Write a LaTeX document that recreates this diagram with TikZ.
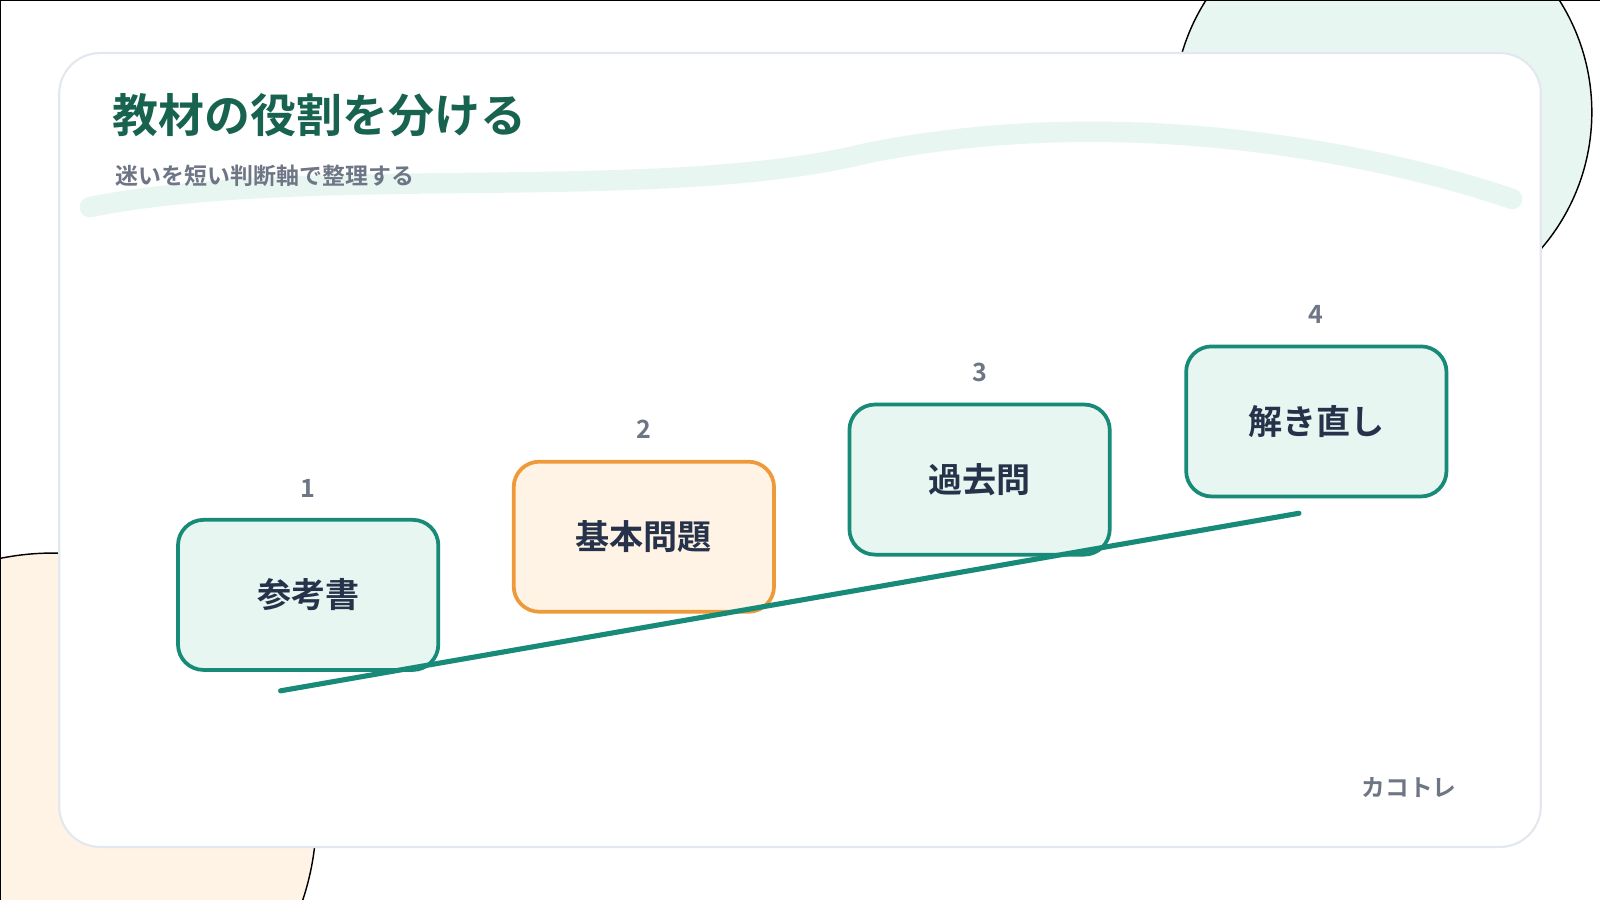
\documentclass[tikz,border=0pt]{standalone}
\usepackage{fontspec}
\setmainfont{Noto Sans CJK JP}
\newfontfamily\jpbold[BoldFont=*]{Noto Sans CJK JP Bold}
\usetikzlibrary{positioning}
\definecolor{teal}{HTML}{178A78}
\definecolor{tealfill}{HTML}{E8F6F2}
\definecolor{orangeln}{HTML}{EE9A3A}
\definecolor{orangefill}{HTML}{FFF3E5}
\definecolor{titlegreen}{HTML}{17634F}
\definecolor{subgray}{HTML}{6E7686}
\definecolor{boxtext}{HTML}{25324A}
\definecolor{cardline}{HTML}{E3E8EE}
\tikzset{
  stepbox/.style={draw=teal,fill=tealfill,line width=1.1mm/3,rounded corners=0.25cm,minimum width=2.55cm,minimum height=1.47cm,font=\jpbold\fontsize{9.5pt}{10pt}\selectfont,text=boxtext},
  hotbox/.style={stepbox,draw=orangeln,fill=orangefill},
  stepnum/.style={font=\jpbold\fontsize{7pt}{8pt}\selectfont,text=subgray}
}
\begin{document}
\begin{tikzpicture}[x=0.01cm,y=-0.01cm]
  \useasboundingbox (0,0) rectangle (1568,882);
  \begin{scope}
    \clip (0,0) rectangle (1568,882);
    \draw[fill=tealfill] (1355,110) circle (205);
    \draw[fill=orangefill] (52,800) circle (258);
  \end{scope}
  \draw[line width=0.3pt] (0,882) -- (0,0) -- (1568,0);
  % card
  \draw[cardline,fill=white,line width=0.6pt,rounded corners=0.4cm] (58,52) rectangle (1510,830);
  \draw[tealfill,line width=0.2cm,line cap=round] (88,203) .. controls (300,160) and (650,200) .. (850,150) .. controls (1100,100) and (1350,150) .. (1482,195);
  \node[anchor=west,font=\jpbold\fontsize{12.8pt}{14pt}\selectfont,text=titlegreen] (title) at (98,113) {教材の役割を分ける};
  \node[anchor=west,font=\jpbold\fontsize{6.4pt}{7pt}\selectfont,text=subgray] (sub) at (101,172) {迷いを短い判断軸で整理する};
  % steps
  \node[stepbox] (s1) at (302,583) {参考書};
  \node[hotbox] (s2) at (631,526) {基本問題};
  \node[stepbox] (s3) at (960,470) {過去問};
  \node[stepbox] (s4) at (1290,413) {解き直し};
  \foreach \i in {1,...,4}
    \node[stepnum,above=0.08cm of s\i] (n\i) {\i};
  \coordinate (lineA) at (275,677);
  \coordinate (lineB) at (1273,503);
  \draw[teal,line width=0.05cm,line cap=round] (lineA) -- (lineB);
  \node[font=\jpbold\fontsize{6.6pt}{7pt}\selectfont,text=subgray] (brand) at (1381,772) {カコトレ};
\end{tikzpicture}
\end{document}
